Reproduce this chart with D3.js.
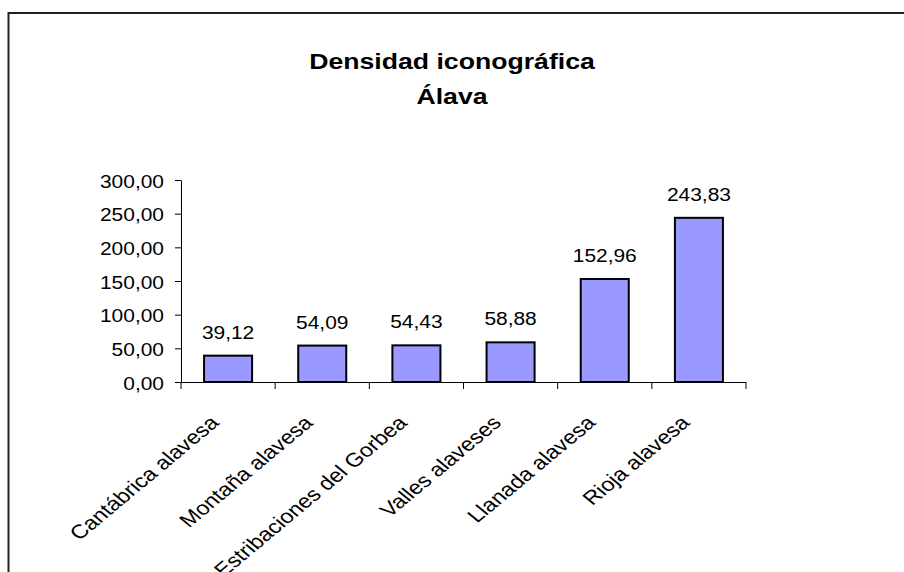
<!DOCTYPE html>
<html>
<head>
<meta charset="utf-8">
<script src="https://cdn.jsdelivr.net/npm/d3@7"></script>
<style>
  body { margin: 0; background: #fff; }
  text { font-family: Arial, "Liberation Sans", sans-serif; fill: #000; }
</style>
</head>
<body>
<script>
// chart data
var categories = ["Cantábrica alavesa", "Montaña alavesa", "Estribaciones del Gorbea",
                  "Valles alaveses", "Llanada alavesa", "Rioja alavesa"];
var values = [39.12, 54.09, 54.43, 58.88, 152.96, 243.83];
var yTicks = [0, 50, 100, 150, 200, 250, 300];
var titleLines = ["Densidad iconográfica", "Álava"];

var width = 904, height = 572;
var plotLeft = 181, plotRight = 746, plotTop = 180, plotBottom = 382;
var sx = 1.19; // the original picture is stretched horizontally

var fmt = function (v) { return d3.format(".2f")(v).replace(".", ","); };

var svg = d3.select("body").append("svg")
    .attr("width", width)
    .attr("height", height);

// outer frame (cut off at right and bottom)
svg.append("path")
    .attr("d", "M8.5,600V13H910")
    .style("fill", "none")
    .style("stroke", "#222")
    .style("stroke-width", 2);

// title
svg.selectAll("text.title")
    .data(titleLines)
    .enter().append("text")
    .attr("class", "title")
    .attr("transform", function (d, i) { return "translate(452," + (68.5 + i * 35) + ") scale(1.2,1)"; })
    .style("text-anchor", "middle")
    .style("font-weight", "bold")
    .style("font-size", "22.2px")
    .text(function (d) { return d; });

var x = d3.scaleBand().domain(categories).range([plotLeft, plotRight]).padding(0);
var y = d3.scaleLinear().domain([0, 300]).range([plotBottom, plotTop]);

// y axis
var yAxis = svg.append("g")
    .attr("transform", "translate(" + plotLeft + ",0)")
    .call(d3.axisLeft(y).tickValues(yTicks).tickSize(6).tickSizeOuter(0).tickFormat(fmt));
yAxis.select(".domain").style("stroke", "#000");
yAxis.selectAll(".tick line").style("stroke", "#000");
yAxis.selectAll(".tick text")
    .attr("x", null).attr("dy", null)
    .attr("transform", "translate(-17,7) scale(" + sx + ",1)")
    .style("font-size", "17.6px")
    .style("font-family", "Arial, 'Liberation Sans', sans-serif")
    .style("fill", "#000");

// x axis: tick marks at category boundaries
var bounds = d3.range(categories.length + 1).map(function (i) { return plotLeft + i * x.step(); });
svg.append("line")
    .attr("x1", plotLeft - 6).attr("x2", plotRight)
    .attr("y1", plotBottom + 0.5).attr("y2", plotBottom + 0.5)
    .style("stroke", "#000");
svg.selectAll("line.xtick")
    .data(bounds)
    .enter().append("line")
    .attr("class", "xtick")
    .attr("x1", function (d) { return d; }).attr("x2", function (d) { return d; })
    .attr("y1", plotBottom).attr("y2", plotBottom + 7)
    .style("stroke", "#000");

// bars
var barW = x.bandwidth() * 0.51;
svg.selectAll("rect.bar")
    .data(values)
    .enter().append("rect")
    .attr("class", "bar")
    .attr("x", function (d, i) { return x(categories[i]) + (x.bandwidth() - barW) / 2; })
    .attr("y", function (d) { return y(d); })
    .attr("width", barW)
    .attr("height", function (d) { return y(0) - y(d); })
    .style("fill", "#9999FF")
    .style("stroke", "#000")
    .style("stroke-width", 2);

// value labels
svg.selectAll("text.val")
    .data(values)
    .enter().append("text")
    .attr("class", "val")
    .attr("transform", function (d, i) {
        return "translate(" + (x(categories[i]) + x.bandwidth() / 2) + "," + (y(d) - 17) + ") scale(" + sx + ",1)";
    })
    .style("text-anchor", "middle")
    .style("font-size", "17.6px")
    .text(function (d) { return fmt(d); });

// category labels, rotated
svg.selectAll("text.cat")
    .data(categories)
    .enter().append("text")
    .attr("class", "cat")
    .attr("transform", function (d) {
        return "translate(" + (x(d) + x.bandwidth() / 2 - 8) + "," + (plotBottom + 42) + ") scale(1.2,1) rotate(-45)";
    })
    .style("text-anchor", "end")
    .style("font-size", "19.4px")
    .text(function (d) { return d; });
</script>
</body>
</html>
